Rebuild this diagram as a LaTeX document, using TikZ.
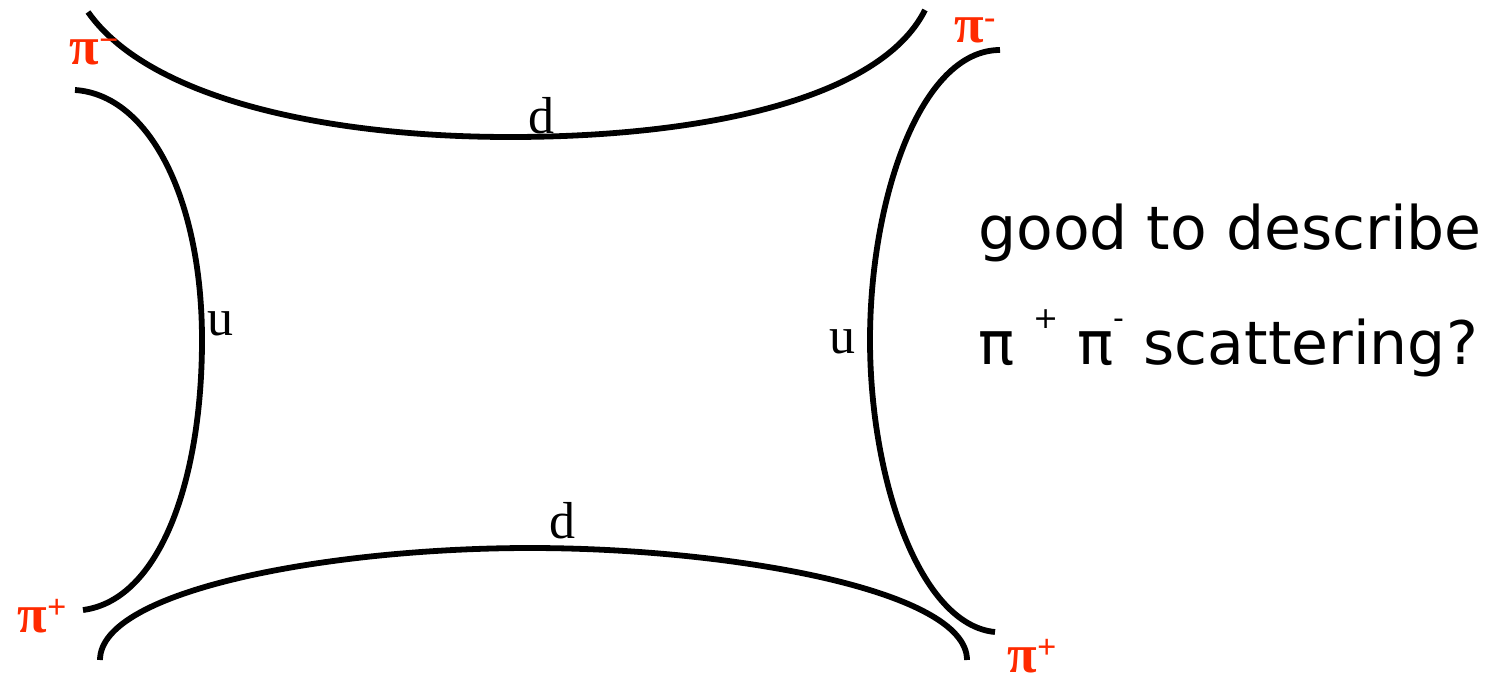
\documentclass[tikz,border=0pt]{standalone}
\usepackage{fontspec}
\setmainfont{Liberation Serif}
\newfontfamily\notefont{DejaVu Sans}
\definecolor{pired}{HTML}{FF2A00}
\newcommand{\pisup}[1]{\raisebox{0.55ex}{\fontsize{34}{34}\selectfont #1}}
\newcommand{\notesup}[1]{\raisebox{1.1ex}{\fontsize{30}{30}\selectfont #1}}
\begin{document}
\begin{tikzpicture}[x=1pt,y=-1pt,
  quark/.style={line width=5.8pt},
  flav/.style={font=\fontsize{52}{52}\selectfont, inner sep=0pt},
  pion/.style={text=pired, font=\bfseries\fontsize{54}{54}\selectfont, inner sep=0pt},
  note/.style={font=\notefont\fontsize{60}{115}\selectfont, align=left, anchor=north west, inner sep=0pt}]
\useasboundingbox (0,0) rectangle (1501,683);
% quark lines
\draw[quark] (88,12) .. controls (150,100) and (330,137) .. (510,137) .. controls (700,137) and (880,100) .. (925,10);
\draw[quark] (75,90) .. controls (150,95) and (202,200) .. (202,340) .. controls (202,480) and (160,600) .. (83,610);
\draw[quark] (1000,50) .. controls (920,50) and (870,200) .. (870,340) .. controls (870,480) and (920,625) .. (995,632);
\draw[quark] (100,660) .. controls (100,590) and (330,548) .. (530,548) .. controls (730,548) and (967,590) .. (967,660);
% flavour labels
\node[flav] (dtop) at (541,116) {d};
\node[flav] (dbot) at (562,521) {d};
\node[flav] (uleft) at (220,324) {u};
\node[flav] (uright) at (842,342) {u};
% pion labels
\node[pion] (p1) at (94,52) {π\pisup{−}};
\node[pion] (p2) at (975,30) {π\pisup{-}};
\node[pion] (p3) at (42,616) {π\pisup{+}};
\node[pion] (p4) at (1032,656) {π\pisup{+}};
% note
\node[note] (q) at (978,204) {good to describe\\π \notesup{+} π\notesup{-} scattering?};
\end{tikzpicture}
\end{document}
